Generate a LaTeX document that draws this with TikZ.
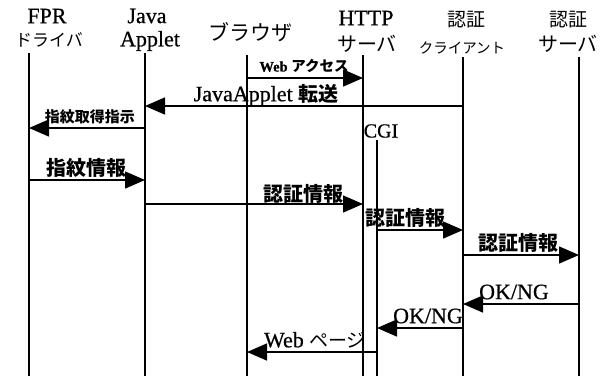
\documentclass[tikz,border=0pt]{standalone}
\usepackage{fontspec}
\setmainfont{Liberation Serif}[FakeBold=0.6]
\newfontfamily\jp{Noto Sans CJK JP}
\usetikzlibrary{arrows.meta}
\tikzset{
  life/.style={line width=1.6pt},
  msg/.style={line width=1.5pt,-{Triangle[length=20pt,width=17pt]}},
  hdr/.style={inner sep=0pt,font=\fontsize{22}{22}\selectfont},
  lbl/.style={inner sep=0pt},
}
\newcommand{\J}[2]{{\jp\fontsize{#1}{#1}\selectfont #2}}
\newcommand{\JB}[2]{{\jp\bfseries\fontsize{#1}{#1}\selectfont #2}}
\begin{document}
\begin{tikzpicture}[x=1pt,y=-1pt]
\useasboundingbox (0,0) rectangle (611,376);
% headers
\node[hdr] (hFPR) at (47,16) {FPR};
\node[hdr] (hFPRb) at (49,40) {\J{17}{ドライバ}};
\node[hdr] (hJava) at (147,16) {Java};
\node[hdr] (hApp) at (150,41) {Applet};
\node[hdr] (hBrw) at (250,32) {\J{21}{ブラウザ}};
\node[hdr] (hHTTP) at (366,18) {HTTP};
\node[hdr] (hHTTPb) at (367,44) {\J{20}{サーバ}};
\node[hdr] (hCl) at (466,20) {\J{19}{認証}};
\node[hdr] (hClb) at (462,48) {\J{14.5}{クライアント}};
\node[hdr] (hSv) at (568,20) {\J{19}{認証}};
\node[hdr] (hSvb) at (568,44) {\J{20}{サーバ}};
% lifelines
\coordinate (fT) at (29,53);   \coordinate (fB) at (29,376);
\coordinate (jT) at (145,53);  \coordinate (jB) at (145,376);
\coordinate (bT) at (247,55);  \coordinate (bB) at (247,376);
\coordinate (hT) at (363,55);  \coordinate (hB) at (363,376);
\coordinate (gT) at (377,140); \coordinate (gB) at (377,376);
\coordinate (cT) at (463,57);  \coordinate (cB) at (463,376);
\coordinate (sT) at (579,57);  \coordinate (sB) at (579,376);
\draw[life] (fT) -- (fB);
\draw[life,line width=2.4pt] (jT) -- (jB);
\draw[life] (bT) -- (bB);
\draw[life,line width=2pt] (hT) -- (hB);
\draw[life,line width=1.3pt] (gT) -- (gB);
\draw[life] (cT) -- (cB);
\draw[life,line width=2.4pt] (sT) -- (sB);
\node[lbl,font=\fontsize{20}{20}\selectfont] (cgi) at (381,131) {CGI};
% messages
\draw[msg] (bT |- 0,78) -- (hT |- 0,78);
\node[lbl] (m1) at (304,66) {\fontsize{14.5}{14.5}\selectfont\bfseries Web \J{14.5}{アクセス}};
\draw[msg] (cT |- 0,106) -- (jT |- 0,106);
\node[lbl] (m2) at (266,95) {\fontsize{22}{22}\selectfont JavaApplet \JB{20}{転送}};
\draw[msg] (jT |- 0,128) -- (fT |- 0,128);
\node[lbl] (m3) at (90,117) {\JB{15}{指紋取得指示}};
\draw[msg] (fT |- 0,180) -- (jT |- 0,180);
\node[lbl] (m4) at (86,168) {\JB{20}{指紋情報}};
\draw[msg] (jT |- 0,204) -- (hT |- 0,204);
\node[lbl] (m5) at (303,194) {\JB{20}{認証情報}};
\draw[msg] (gT |- 0,230) -- (cT |- 0,230);
\node[lbl] (m6) at (405,218) {\JB{20}{認証情報}};
\draw[msg] (cT |- 0,255) -- (sT |- 0,255);
\node[lbl] (m7) at (518,243) {\JB{20}{認証情報}};
\draw[msg] (sT |- 0,304) -- (cT |- 0,304);
\node[lbl,font=\fontsize{22}{22}\selectfont] (m8) at (514,292) {OK/NG};
\draw[msg] (cT |- 0,328) -- (gT |- 0,328);
\node[lbl,font=\fontsize{22}{22}\selectfont] (m9) at (428,316) {OK/NG};
\draw[msg] (gT |- 0,352) -- (bT |- 0,352);
\node[lbl] (m10) at (315,340) {\fontsize{22}{22}\selectfont Web \J{19}{ページ}};
\end{tikzpicture}
\end{document}
